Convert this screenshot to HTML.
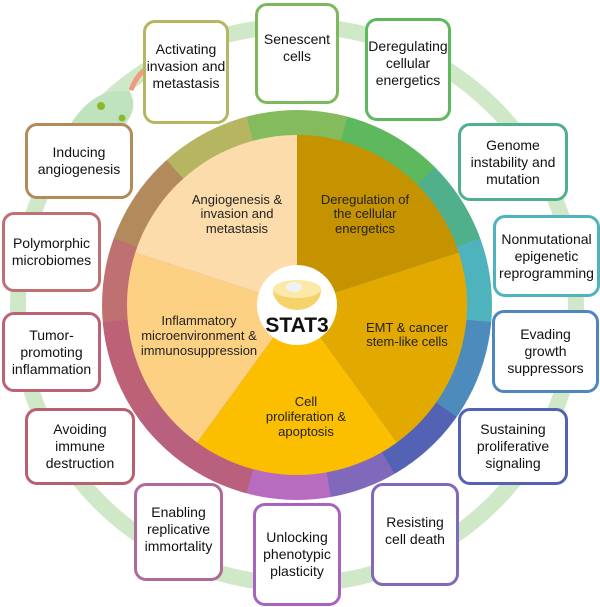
<!DOCTYPE html>
<html><head><meta charset="utf-8"><style>
body{margin:0;width:600px;height:607px;background:#fff;position:relative;overflow:hidden;font-family:"Liberation Sans",sans-serif}
.ring{position:absolute;left:102px;top:110px;width:390px;height:390px;border-radius:50%;
background:conic-gradient(#84bb5c 0deg 15deg,#5db85e 15deg 45deg,#50b08c 45deg 70deg,#4fb3be 70deg 95deg,#4e8bbd 95deg 125deg,#5462b5 125deg 150deg,#8068bb 150deg 170deg,#b86cc0 170deg 195deg,#b9607e 195deg 235deg,#bd6176 235deg 265deg,#bf7070 265deg 290deg,#b38a5c 290deg 318deg,#b5b562 318deg 345deg,#84bb5c 345deg 360deg)}
.b{position:absolute;box-sizing:border-box;border:3px solid;border-radius:12px;background:#fff;display:flex;align-items:center;justify-content:center;text-align:center;font-size:14px;line-height:17px;color:#111}
svg{position:absolute;left:0;top:0}
.t{font-size:13px;fill:#222;text-anchor:middle}
</style></head><body>
<svg width="600" height="607">
<circle cx="297" cy="305" r="279" fill="none" stroke="#cfe9c8" stroke-width="16"/>
<path d="M70 125 Q95 85 130 92 Q140 110 120 130 Q100 128 70 125Z" fill="#bfe3bc"/>
<path d="M131 90 Q137 75 145 70" stroke="#f09a80" stroke-width="5" fill="none"/>
<circle cx="101" cy="106" r="4" fill="#8cb830"/><circle cx="122" cy="118" r="3.5" fill="#8cb830"/>
</svg>
<div class="ring"></div>
<svg width="600" height="607">
<g transform="translate(297,305)">
<path d="M0 0 L0 -170 A170 170 0 0 1 161.7 -52.5Z" fill="#c59200"/>
<path d="M0 0 L161.7 -52.5 A170 170 0 0 1 99.9 137.5Z" fill="#e2a900"/>
<path d="M0 0 L99.9 137.5 A170 170 0 0 1 -99.9 137.5Z" fill="#fbbf00"/>
<path d="M0 0 L-99.9 137.5 A170 170 0 0 1 -161.7 -52.5Z" fill="#fdd184"/>
<path d="M0 0 L-161.7 -52.5 A170 170 0 0 1 0 -170Z" fill="#fddcac"/>
<circle r="40" fill="#fff"/>
<path d="M-24 -15 A24 20 0 0 0 24 -15Z" fill="#f6d36a"/>
<ellipse cx="0" cy="-16" rx="24" ry="9" fill="#fbe9a8"/>
<ellipse cx="-3" cy="-18" rx="8" ry="5" fill="#eef3f6"/>
<text y="27" text-anchor="middle" font-size="21" font-weight="bold" fill="#111">STAT3</text>
</g>
<text class="t" x="237" y="204">Angiogenesis &amp;</text><text class="t" x="237" y="218">invasion and</text><text class="t" x="237" y="233">metastasis</text>
<text class="t" x="365" y="204">Deregulation of</text><text class="t" x="365" y="218">the cellular</text><text class="t" x="365" y="233">energetics</text>
<text class="t" x="199" y="325">Inflammatory</text><text class="t" x="199" y="340">microenvironment &amp;</text><text class="t" x="199" y="355">immunosuppression</text>
<text class="t" x="407" y="332">EMT &amp; cancer</text><text class="t" x="407" y="346">stem-like cells</text>
<text class="t" x="306" y="406">Cell</text><text class="t" x="306" y="421">proliferation &amp;</text><text class="t" x="306" y="436">apoptosis</text>
</svg>
<div class="b" style="left:143px;top:20px;width:86px;height:104px;border-color:#b5b562;padding-bottom:12px">Activating<br>invasion and<br>metastasis</div>
<div class="b" style="left:255px;top:3px;width:84px;height:101px;border-color:#7cb85c;padding-bottom:12px">Senescent<br>cells</div>
<div class="b" style="left:365px;top:18px;width:86px;height:103px;border-color:#5db85e;padding-bottom:12px">Deregulating<br>cellular<br>energetics</div>
<div class="b" style="left:458px;top:123px;width:110px;height:78px;border-color:#50b08c">Genome<br>instability and<br>mutation</div>
<div class="b" style="left:493px;top:215px;width:107px;height:82px;border-color:#4fb3be">Nonmutational<br>epigenetic<br>reprogramming</div>
<div class="b" style="left:492px;top:310px;width:107px;height:83px;border-color:#4e86bd">Evading<br>growth<br>suppressors</div>
<div class="b" style="left:458px;top:408px;width:110px;height:77px;border-color:#5462b5">Sustaining<br>proliferative<br>signaling</div>
<div class="b" style="left:371px;top:483px;width:88px;height:103px;border-color:#8068bb;padding-bottom:8px">Resisting<br>cell death</div>
<div class="b" style="left:253px;top:503px;width:88px;height:103px;border-color:#a664c0">Unlocking<br>phenotypic<br>plasticity</div>
<div class="b" style="left:134px;top:483px;width:89px;height:98px;border-color:#b06a9a;padding-bottom:6px">Enabling<br>replicative<br>immortality</div>
<div class="b" style="left:25px;top:408px;width:110px;height:77px;border-color:#b86070">Avoiding<br>immune<br>destruction</div>
<div class="b" style="left:2px;top:312px;width:99px;height:80px;border-color:#bd6176">Tumor-<br>promoting<br>inflammation</div>
<div class="b" style="left:2px;top:212px;width:99px;height:80px;border-color:#bf7075">Polymorphic<br>microbiomes</div>
<div class="b" style="left:25px;top:123px;width:108px;height:76px;border-color:#b38a5c">Inducing<br>angiogenesis</div>
</body></html>
